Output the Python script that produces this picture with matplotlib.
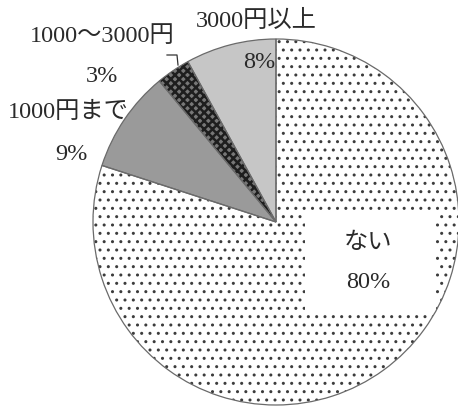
import matplotlib.pyplot as plt
from matplotlib.patches import Rectangle

plt.rcParams['font.family'] = ['Liberation Serif', 'Noto Sans CJK JP', 'DejaVu Sans']
plt.rcParams['hatch.linewidth'] = 1.0

# slices, counter-clockwise from 12 o'clock
labels = ['3000円以上', '1000～3000円', '1000円まで', 'ない']
shares = [8, 3, 9, 80]
face = ['#c6c6c6', '#777777', '#9a9a9a', 'white']
hatch_col = ['#c6c6c6', '#1e1e1e', '#9a9a9a', '#3c3c3c']
hatches = [None, 'xxxx', None, '..']
hatch_lw = [1.0, 1.8, 1.0, 1.0]

W, H = 458, 408
fig = plt.figure(figsize=(W / 100, H / 100), dpi=100)

# pie centre (276, 222) px, radius 183 px
cx, cy, r = 276, 222, 183
ax = fig.add_axes([(cx - r) / W, (H - cy - r) / H, 2 * r / W, 2 * r / H])

wedges, _ = ax.pie(shares, startangle=90, counterclock=True, radius=1,
                   wedgeprops=dict(linewidth=0))
for w, fc, hc, h, hl in zip(wedges, face, hatch_col, hatches, hatch_lw):
    w.set_facecolor(fc)
    w.set_edgecolor(hc)
    w.set_linewidth(0)
    if h:
        w.set_hatch(h)
        if hasattr(w, 'set_hatch_linewidth'):
            w.set_hatch_linewidth(hl)

# outlines
ax.pie(shares, startangle=90, counterclock=True, radius=1,
       wedgeprops=dict(fill=False, edgecolor='#6a6a6a', linewidth=0.9))
ax.set_aspect('auto')
ax.set_xlim(-1, 1)
ax.set_ylim(-1, 1)
ax.axis('off')


def px(x, y):
    return x / W, 1 - y / H


fs = 17.5
tc = '#2a2a2a'
fig.text(*px(256, 21), labels[0], fontsize=fs, ha='center', va='center', color=tc)
fig.text(*px(275, 62), f'{shares[0]}%', fontsize=fs, ha='right', va='center', color=tc)
fig.text(*px(102, 37), labels[1], fontsize=fs, ha='center', va='center', color=tc)
fig.text(*px(102, 76), f'{shares[1]}%', fontsize=fs, ha='center', va='center', color=tc)
fig.text(*px(68, 112), labels[2], fontsize=fs, ha='center', va='center', color=tc)
fig.text(*px(71, 155), f'{shares[2]}%', fontsize=fs, ha='center', va='center', color=tc)

# leader for the small slice
lx = [167 / W, 177 / W, 178 / W]
ly = [1 - 55 / H, 1 - 55 / H, 1 - 65 / H]
fig.add_artist(plt.Line2D(lx, ly, color='#333', linewidth=0.9))

# white box inside the big slice
fig.add_artist(Rectangle(px(305, 310), 130 / W, 97 / H, transform=fig.transFigure,
                         facecolor='white', edgecolor='none'))
fig.text(*px(368, 243), labels[3], fontsize=fs, ha='center', va='center', color=tc)
fig.text(*px(368, 282), f'{shares[3]}%', fontsize=fs, ha='center', va='center', color=tc)

fig.savefig('out.png', dpi=100)
